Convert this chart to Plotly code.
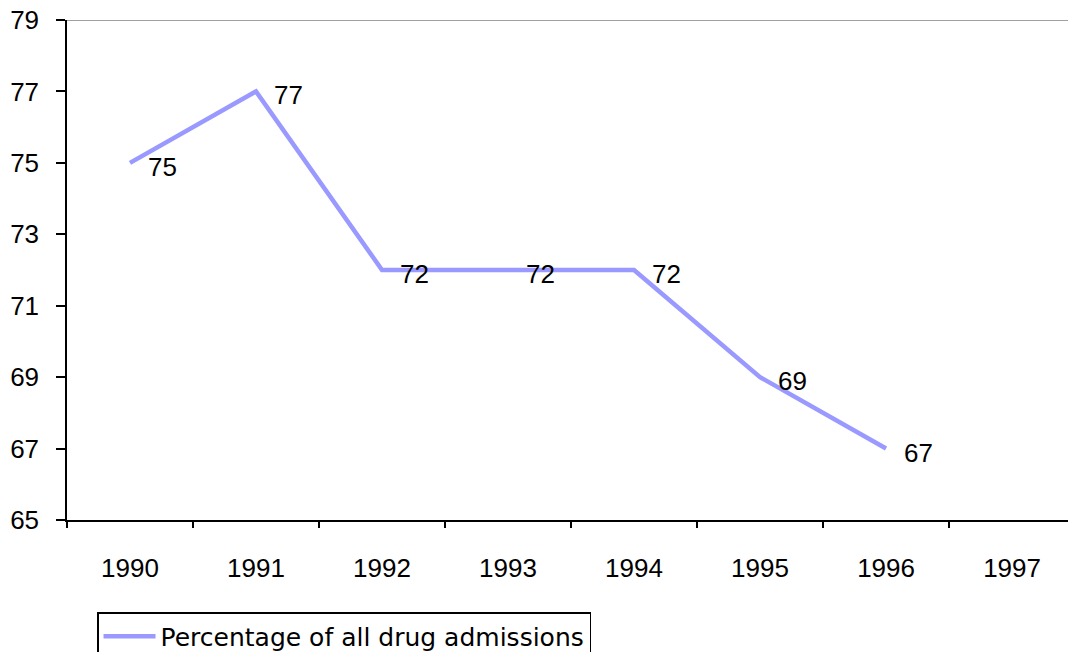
import plotly.graph_objects as go

# Share of drug admissions by year
years = ["1990", "1991", "1992", "1993", "1994", "1995", "1996", "1997"]
pct_years = ["1990", "1991", "1992", "1993", "1994", "1995", "1996"]
pct_values = [75, 77, 72, 72, 72, 69, 67]
y_ticks = [65, 67, 69, 71, 73, 75, 77, 79]

FONT = "Liberation Sans, Arial, sans-serif"
LEGEND_FONT = "DejaVu Sans, Verdana, sans-serif"
FS = 26
LINE_COLOR = "#9999FF"

x_idx = [years.index(y) for y in pct_years]

fig = go.Figure()
fig.add_trace(go.Scatter(
    x=x_idx,
    y=pct_values,
    mode="lines",
    line=dict(color=LINE_COLOR, width=4.5),
    name="Percentage of all drug admissions",
    showlegend=True,
))

# value labels beside each point
for xi, v in zip(x_idx, pct_values):
    fig.add_annotation(
        x=xi, y=v, text=str(v), showarrow=False,
        xanchor="left", yanchor="middle", xshift=16, yshift=-4,
        font=dict(family=FONT, size=FS, color="#000000"),
    )

# plot-area top border
fig.add_shape(type="line", xref="paper", yref="y", x0=0, x1=1, y0=79, y1=79,
              line=dict(color="#808080", width=1.5))

fig.update_layout(
    width=1068, height=652,
    margin=dict(l=67, r=0, t=20, b=132, autoexpand=False),
    paper_bgcolor="white", plot_bgcolor="white",
    font=dict(family=FONT, size=FS, color="#000000"),
    xaxis=dict(
        range=[-0.5, 7.444],
        tickmode="array",
        tickvals=list(range(len(years))),
        ticktext=years,
        ticks="",
        showgrid=False,
        zeroline=False,
        showline=True, linecolor="#000000", linewidth=1.5,
        ticklabelstandoff=24,
        tickfont=dict(family=FONT, size=FS, color="#000000"),
    ),
    xaxis2=dict(
        overlaying="x", matches="x", side="bottom", anchor="y",
        tickmode="array",
        tickvals=[i - 0.5 for i in range(len(years) + 1)],
        ticktext=[""] * (len(years) + 1),
        ticks="outside", ticklen=7, tickwidth=1.5, tickcolor="#000000",
        showgrid=False, zeroline=False, showline=False,
    ),
    yaxis=dict(
        range=[65, 79],
        tickmode="array",
        tickvals=y_ticks,
        ticks="outside", ticklen=9, tickwidth=1.5, tickcolor="#000000",
        showgrid=False, zeroline=False,
        showline=True, linecolor="#000000", linewidth=1.5,
        ticklabelstandoff=12,
        tickfont=dict(family=FONT, size=FS, color="#000000"),
    ),
    legend=dict(
        x=0.03, y=-0.184, xanchor="left", yanchor="top",
        bordercolor="#000000", borderwidth=1.5,
        bgcolor="white",
        itemwidth=52,
        font=dict(family=LEGEND_FONT, size=25, color="#000000"),
    ),
)

# invisible trace to carry the boundary tick marks
fig.add_trace(go.Scatter(x=[0], y=[65], xaxis="x2", yaxis="y", mode="markers",
                         marker=dict(opacity=0), showlegend=False, hoverinfo="skip"))

fig.write_html("out.html")
